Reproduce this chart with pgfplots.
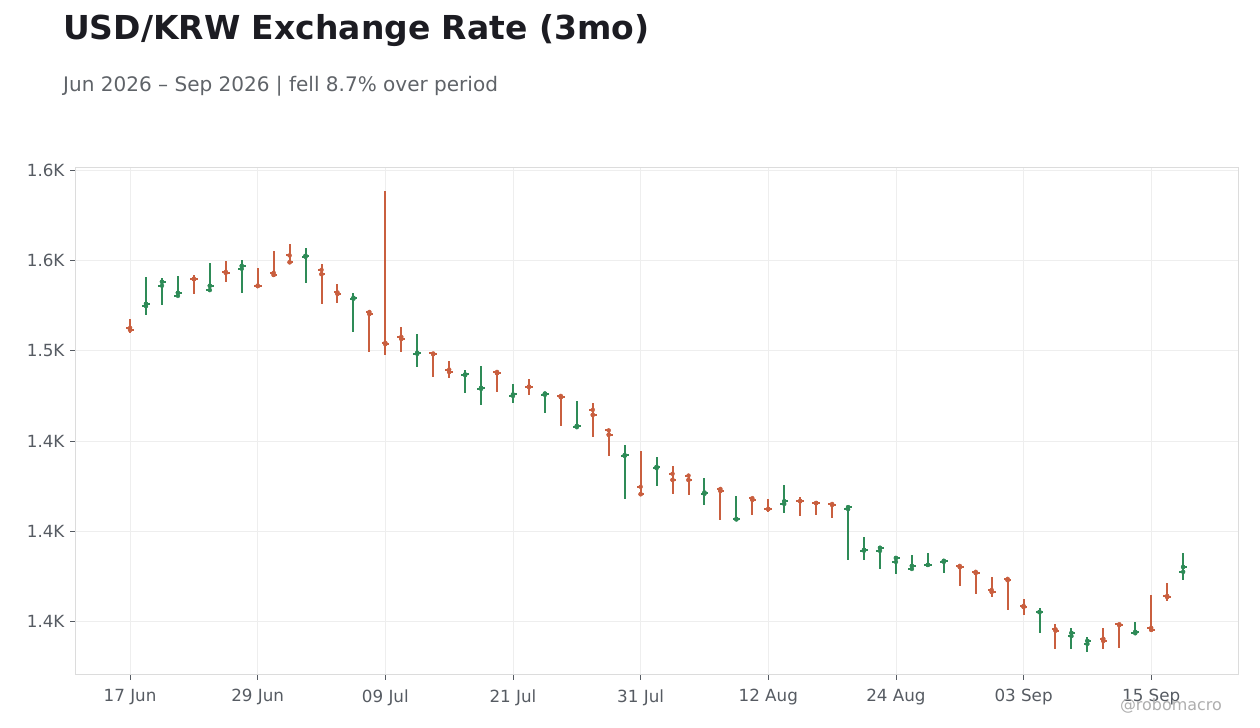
\documentclass[border=0pt]{standalone}
\usepackage{fontspec}
\setmainfont{DejaVu Sans}
\usepackage{xcolor}
\usepackage{pgfplots}
\pgfplotsset{compat=1.18}
\usepackage{pgfplotstable}

\definecolor{upc}{HTML}{2E8B57}
\definecolor{downc}{HTML}{C95F3F}
\definecolor{titlec}{HTML}{1C1C22}
\definecolor{subc}{HTML}{5F6368}
\definecolor{tickc}{HTML}{565B62}
\definecolor{gridc}{HTML}{EEEEEE}
\definecolor{framec}{HTML}{DCDCDC}
\definecolor{markc}{HTML}{AEAEAE}

% daily OHLC, x = trading day index (0 = 17 Jun)
\pgfplotstableread{
x o h l c
1 1524.7 1540.8 1519.9 1526.0
2 1536.0 1540.2 1525.4 1538.2
3 1530.4 1541.3 1530.0 1532.1
5 1533.6 1548.5 1533.0 1536.0
7 1545.4 1550.2 1532.1 1547.0
11 1552.0 1556.8 1537.6 1552.6
14 1528.8 1531.9 1510.5 1529.3
18 1498.3 1509.2 1490.9 1498.9
21 1486.5 1489.3 1476.7 1486.9
22 1478.9 1491.5 1470.2 1479.5
24 1475.0 1481.5 1471.2 1475.8
26 1475.6 1477.1 1465.6 1476.3
28 1457.7 1472.1 1457.6 1458.4
31 1441.8 1447.7 1418.0 1442.2
33 1435.0 1441.1 1425.0 1435.7
36 1420.8 1429.5 1414.7 1421.5
38 1406.6 1419.5 1406.6 1406.9
41 1415.2 1425.6 1410.3 1416.7
45 1412.3 1413.6 1384.2 1413.4
46 1389.3 1396.8 1384.1 1389.8
47 1389.2 1391.0 1379.2 1390.9
48 1383.1 1385.7 1376.5 1385.3
49 1379.2 1386.8 1378.5 1380.9
50 1381.4 1387.9 1380.9 1381.5
51 1383.1 1384.6 1377.0 1383.7
57 1355.2 1357.8 1343.8 1355.4
59 1342.0 1346.4 1335.0 1343.8
60 1337.7 1341.4 1333.3 1339.4
63 1343.6 1349.7 1342.7 1344.4
66 1377.6 1387.9 1373.2 1380.3
}\upbars

\pgfplotstableread{
x o h l c
0 1512.7 1517.5 1509.9 1511.6
4 1539.9 1541.9 1531.5 1539.6
6 1543.7 1549.6 1538.2 1543.2
8 1536.1 1545.7 1535.4 1535.8
9 1543.2 1555.1 1541.7 1542.0
10 1552.8 1559.0 1549.4 1549.0
12 1544.8 1547.9 1526.0 1542.4
13 1532.3 1536.9 1526.5 1531.5
15 1521.5 1521.9 1499.4 1520.4
16 1504.4 1588.4 1497.6 1503.7
17 1507.7 1513.1 1499.4 1506.6
19 1498.5 1499.0 1485.4 1498.1
20 1489.6 1494.2 1485.0 1488.3
23 1488.3 1489.3 1477.3 1487.6
25 1480.2 1484.3 1475.6 1480.0
27 1475.0 1475.6 1458.4 1474.3
29 1467.3 1471.0 1452.4 1464.5
30 1455.9 1456.6 1441.8 1453.5
32 1424.7 1444.4 1424.7 1420.6
34 1431.9 1436.1 1420.7 1428.5
35 1430.9 1431.3 1420.2 1428.5
37 1423.5 1423.7 1406.4 1422.4
39 1418.4 1418.8 1409.2 1417.5
40 1412.5 1418.2 1410.8 1412.3
42 1416.9 1418.8 1408.6 1416.7
43 1415.8 1416.2 1409.2 1415.6
44 1415.2 1415.4 1407.5 1414.7
52 1380.9 1381.3 1369.6 1380.2
53 1377.6 1378.9 1365.4 1377.0
54 1367.6 1374.6 1363.7 1366.5
55 1373.7 1374.1 1356.6 1373.0
56 1358.8 1362.4 1353.8 1358.2
58 1345.8 1348.6 1335.0 1345.1
61 1340.5 1346.4 1335.0 1339.4
62 1348.6 1349.2 1335.5 1348.1
64 1346.6 1364.7 1345.3 1345.5
65 1364.3 1371.3 1361.5 1363.7
}\downbars

\pgfplotsset{
  hl/.style={only marks, mark=none, error bars/.cd, y dir=both, y explicit,
    error mark=none, error bar style={line width=2bp}},
  openmark/.style={only marks, mark=none, error bars/.cd, x dir=minus, x fixed=0.24,
    error mark=none, error bar style={line width=2bp}},
  closemark/.style={only marks, mark=none, error bars/.cd, x dir=plus, x fixed=0.24,
    error mark=none, error bar style={line width=2bp}},
}

\begin{document}
\begin{tikzpicture}
\useasboundingbox (0,0) rectangle (1260bp,728bp);

\node[anchor=base west, inner sep=0, text=titlec,
  font=\fontsize{33.1}{36}\selectfont\bfseries] at (63bp,688.5bp) {USD/KRW Exchange Rate (3mo)};
\node[anchor=base west, inner sep=0, text=subc,
  font=\fontsize{20.1}{24}\selectfont] at (63bp,636.5bp) {Jun 2026 – Sep 2026 | fell 8.7\% over period};

\begin{axis}[
  at={(75bp,53bp)}, anchor=south west,
  scale only axis, width=1164bp, height=507bp,
  xmin=-3.45, xmax=69.5,
  ymin=1320.5, ymax=1601.2,
  xtick={0,8,...,64},
  xticklabels={17 Jun,29 Jun,09 Jul,21 Jul,31 Jul,12 Aug,24 Aug,03 Sep,15 Sep},
  ytick={1350,1400,...,1600},
  yticklabels={1.4K,1.4K,1.4K,1.5K,1.6K,1.6K},
  tick pos=left,
  tick align=outside,
  major tick length=5bp,
  tick style={draw=tickc, line width=0.8bp},
  ticklabel style={text=tickc, font=\fontsize{16.8}{20}\selectfont},
  xticklabel style={yshift=-6bp},
  yticklabel style={xshift=-2bp},
  grid=major,
  grid style={draw=gridc, line width=0.8bp},
  axis line style={draw=framec, line width=1bp},
  clip=false,
]
\addplot[upc, hl] table[x=x, y=c, y error plus expr=\thisrow{h}-\thisrow{c},
  y error minus expr=\thisrow{c}-\thisrow{l}] {\upbars};
\addplot[upc, openmark] table[x=x, y=o] {\upbars};
\addplot[upc, closemark] table[x=x, y=c] {\upbars};
\addplot[downc, hl] table[x=x, y=c, y error plus expr=\thisrow{h}-\thisrow{c},
  y error minus expr=\thisrow{c}-\thisrow{l}] {\downbars};
\addplot[downc, openmark] table[x=x, y=o] {\downbars};
\addplot[downc, closemark] table[x=x, y=c] {\downbars};
\end{axis}

\node[anchor=base east, inner sep=0, text=markc,
  font=\fontsize{16}{18}\selectfont] at (1222bp,18bp) {@robomacro};
\end{tikzpicture}
\end{document}
